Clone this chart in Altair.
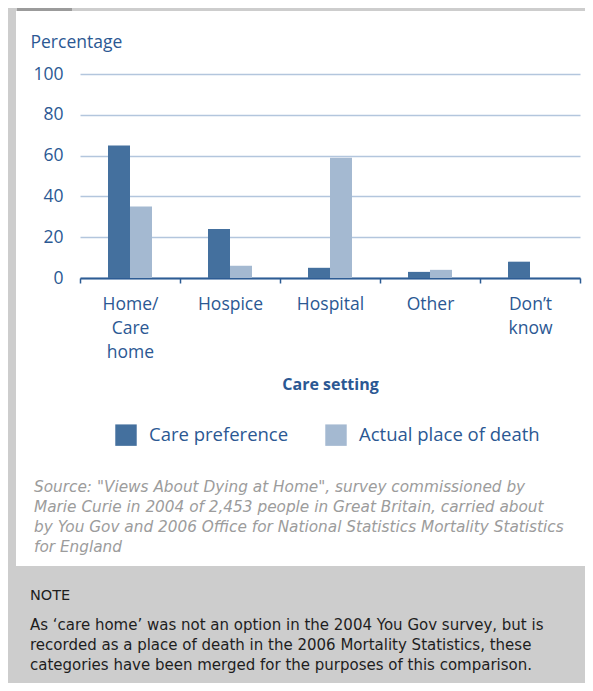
import altair as alt
import pandas as pd

# ---- data ----
categories = ["Home/\nCare\nhome", "Hospice", "Hospital", "Other", "Don\u2019t\nknow"]
care_preference = [65, 24, 5, 3, 8]
actual_place_of_death = [35, 6, 59, 4, 0]
series = ["Care preference", "Actual place of death"]
y_ticks = [0, 20, 40, 60, 80, 100]
y_title = "Percentage"
x_title = "Care setting"
source_lines = [
    "Source: \"Views About Dying at Home\", survey commissioned by",
    "Marie Curie in 2004 of 2,453 people in Great Britain, carried about",
    "by You Gov and 2006 Office for National Statistics Mortality Statistics",
    "for England",
]
note_title = "NOTE"
note_lines = [
    "As \u2018care home\u2019 was not an option in the 2004 You Gov survey, but is",
    "recorded as a place of death in the 2006 Mortality Statistics, these",
    "categories have been merged for the purposes of this comparison.",
]

rows = []
for c, p, a in zip(categories, care_preference, actual_place_of_death):
    rows.append({"setting": c, "series": series[0], "value": p})
    rows.append({"setting": c, "series": series[1], "value": a})
df = pd.DataFrame(rows)
one = pd.DataFrame({"k": [0]})

# ---- style ----
FONT = "Open Sans"
SMALL_FONT = "DejaVu Sans"
BLUE_TEXT = "#2b5893"
DARK_BAR = "#44709e"
LIGHT_BAR = "#a4b9d1"
GRID = "#b3c6dd"
AXIS = "#2d5c94"
GRAY = "#cdcdcd"


def rect(x, x2, y, y2, color):
    return alt.Chart(one).mark_rect(color=color).encode(
        x=alt.value(x), x2=alt.value(x2), y=alt.value(y), y2=alt.value(y2)
    )


deco = [
    rect(-72, -64, -66, 620, GRAY),
    rect(-72, 520, -66, -63, GRAY),
    rect(-63, -8, -66, -63, "#9b9b9b"),
    rect(-72, 520, 492, 620, GRAY),
]

bars = alt.Chart(df).mark_bar().encode(
    x=alt.X(
        "setting:N",
        sort=categories,
        scale=alt.Scale(paddingInner=0, paddingOuter=0),
        axis=alt.Axis(
            title=x_title,
            titleFont=FONT,
            titleFontSize=16,
            titleFontWeight="bold",
            titleColor=BLUE_TEXT,
            titleY=106,
            titleBaseline="middle",
            labelExpr="split(datum.label, '\\n')",
            labelAngle=0,
            labelFont=FONT,
            labelFontSize=17.5,
            labelColor=BLUE_TEXT,
            labelLineHeight=24,
            labelPadding=12,
            labelBaseline="top",
            tickBand="extent",
            tickSize=5,
            tickColor=AXIS,
            tickWidth=1.5,
            domainColor=AXIS,
            domainWidth=2,
            grid=False,
        ),
    ),
    xOffset=alt.XOffset(
        "series:N",
        sort=series,
        scale=alt.Scale(range=[28, 72], paddingInner=0, paddingOuter=0),
    ),
    y=alt.Y(
        "value:Q",
        scale=alt.Scale(domain=[0, 100]),
        axis=alt.Axis(
            values=y_ticks,
            title=y_title,
            titleAngle=0,
            titleX=-50,
            titleY=-32,
            titleAlign="left",
            titleBaseline="middle",
            titleFont=FONT,
            titleFontSize=17.5,
            titleFontWeight="normal",
            titleColor=BLUE_TEXT,
            labelFont=FONT,
            labelFontSize=17.5,
            labelColor=BLUE_TEXT,
            labelPadding=17,
            ticks=False,
            tickSize=0,
            domain=False,
            grid=True,
            gridColor=GRID,
            gridWidth=1.5,
        ),
    ),
    color=alt.Color(
        "series:N",
        sort=series,
        scale=alt.Scale(domain=series, range=[DARK_BAR, LIGHT_BAR]),
        legend=alt.Legend(
            title=None,
            orient="none",
            direction="horizontal",
            legendX=35,
            legendY=350,
            padding=0,
            symbolType="square",
            symbolSize=460,
            symbolStrokeWidth=0,
            symbolOpacity=1,
            labelFont=FONT,
            labelFontSize=18.5,
            labelColor=BLUE_TEXT,
            labelOffset=12,
            labelLimit=0,
            columnPadding=36,
        ),
    ),
)

source = alt.Chart(one).mark_text(
    align="left", baseline="alphabetic", font=SMALL_FONT, fontSize=15.3,
    fontStyle="italic", color="#9c9c9c", lineBreak="\n", lineHeight=20.3,
).encode(x=alt.value(-46), y=alt.value(417.5), text=alt.value("\n".join(source_lines)))

note_head = alt.Chart(one).mark_text(
    align="left", baseline="alphabetic", font=SMALL_FONT, fontSize=14.5, color="#1e1e1e",
).encode(x=alt.value(-50), y=alt.value(526), text=alt.value(note_title))

note_body = alt.Chart(one).mark_text(
    align="left", baseline="alphabetic", font=SMALL_FONT, fontSize=15, color="#1e1e1e",
    lineBreak="\n", lineHeight=20,
).encode(x=alt.value(-50), y=alt.value(555.5), text=alt.value("\n".join(note_lines)))

chart = alt.layer(*deco, bars, source, note_head, note_body).properties(
    width=500,
    height=204,
    autosize=alt.AutoSizeParams(type="none"),
    padding={"left": 72, "top": 66, "right": 5, "bottom": 405},
    background="white",
).configure_view(stroke=None)

chart.save("out.html", embed_options={"renderer": "svg", "actions": False})
